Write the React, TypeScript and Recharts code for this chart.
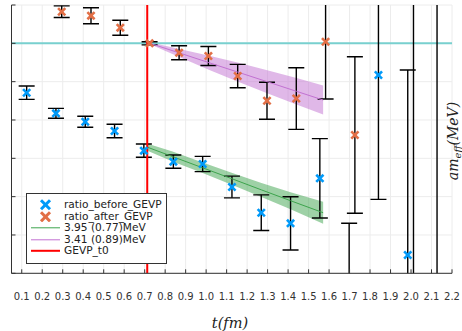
import React from "react";
import {
  ComposedChart,
  Scatter,
  Line,
  Area,
  XAxis,
  YAxis,
  CartesianGrid,
  ReferenceLine,
  ErrorBar,
} from "recharts";

const BLUE = "#009af9";
const ORANGE = "#e26f46";
const GREEN = "#3da44d";
const PURPLE = "#c271d2";
const CYAN = "#78d0cf";

// ratio_before_GEVP
const beforeT = [0.124, 0.267, 0.41, 0.553, 0.696, 0.84, 0.983, 1.126, 1.269, 1.412, 1.555, 1.698, 1.841, 1.984, 2.127];
const beforeVal = [4.712, 4.174, 3.955, 3.713, 3.199, 2.912, 2.852, 2.252, 1.581, 1.304, 2.478, -2.784, 5.173, 0.477, -4.0];
const beforeErr = [0.173, 0.13, 0.143, 0.175, 0.173, 0.173, 0.198, 0.283, 0.466, 0.695, 1.036, 4.088, 3.243, 4.826, 12];

// ratio_after_GEVP
const afterT = [0.295, 0.438, 0.581, 0.724, 0.868, 1.011, 1.154, 1.297, 1.44, 1.583, 1.726, 2.012];
const afterVal = [6.825, 6.721, 6.408, 6.0, 5.755, 5.669, 5.147, 4.503, 4.56, 6.042, 3.608, 9.0];
const afterErr = [0.153, 0.209, 0.196, 0.04, 0.183, 0.248, 0.305, 0.483, 0.804, 1.495, 2.043, 10];

// fit 3.95 (0.77)MeV
const fitAT = [0.711, 0.836, 0.983, 1.128, 1.27, 1.412, 1.571];
const fitAMid = [3.295, 3.045, 2.752, 2.463, 2.176, 1.894, 1.581];
const fitALow = [3.204, 2.915, 2.616, 2.306, 1.993, 1.672, 1.294];
const fitAHigh = [3.386, 3.175, 2.888, 2.62, 2.359, 2.116, 1.868];

// fit 3.41 (0.89)MeV
const fitBT = [0.726, 0.869, 1.01, 1.153, 1.298, 1.441, 1.571];
const fitBMid = [6.0, 5.75, 5.502, 5.252, 4.999, 4.748, 4.521];
const fitBLow = [5.974, 5.646, 5.319, 5.004, 4.699, 4.401, 4.143];
const fitBHigh = [6.026, 5.854, 5.685, 5.5, 5.299, 5.095, 4.899];

const t0 = 0.7125;
const plateau = 6.0;

const xTicks = [0.1, 0.2, 0.3, 0.4, 0.5, 0.6, 0.7, 0.8, 0.9, 1.0, 1.1, 1.2, 1.3, 1.4, 1.5, 1.6, 1.7, 1.8, 1.9, 2.0, 2.1, 2.2];
const yTicks = [0, 1, 2, 3, 4, 5, 6, 7];

const beforeData = beforeT.map((t, i) => ({ t, v: beforeVal[i], e: beforeErr[i] }));
const afterData = afterT.map((t, i) => ({ t, v: afterVal[i], e: afterErr[i] }));
const fitAData = fitAT.map((t, i) => ({ t, c: fitAMid[i], range: [fitALow[i], fitAHigh[i]] }));
const fitBData = fitBT.map((t, i) => ({ t, c: fitBMid[i], range: [fitBLow[i], fitBHigh[i]] }));

const Cross = (props: any) => {
  const { cx, cy, fill } = props;
  if (cx == null || cy == null) return null;
  const r = 3.6;
  return (
    <g stroke={fill} strokeWidth={2.6}>
      <line x1={cx - r} y1={cy - r} x2={cx + r} y2={cy + r} />
      <line x1={cx - r} y1={cy + r} x2={cx + r} y2={cy - r} />
    </g>
  );
};

const XTick = (props: any) => {
  const { x, y, payload } = props;
  return (
    <g>
      <line x1={x} x2={x} y1={y} y2={y - 4} stroke="#333" />
      <text x={x} y={y + 27} textAnchor="middle" fontSize={10} fontFamily="DejaVu Sans" fill="#333">
        {Number(payload.value).toFixed(1)}
      </text>
    </g>
  );
};

const YTick = (props: any) => {
  const { x, y } = props;
  return <line x1={x} x2={x + 4} y1={y} y2={y} stroke="#333" />;
};

const legendRows = [
  { kind: "cross", color: BLUE, label: "ratio_before_GEVP" },
  { kind: "cross", color: ORANGE, label: "ratio_after_GEVP" },
  { kind: "line", color: GREEN, label: "3.95 (0.77)MeV" },
  { kind: "line", color: PURPLE, label: "3.41 (0.89)MeV" },
  { kind: "red", color: "#ff0000", label: "GEVP_t0" },
];

function LegendBox() {
  return (
    <div
      style={{
        position: "absolute",
        left: 26,
        top: 193,
        width: 141,
        height: 71,
        boxSizing: "border-box",
        border: "1px solid #333",
        background: "#fff",
        paddingTop: 5,
        fontFamily: "DejaVu Sans",
        fontSize: 10.6,
        color: "#222",
      }}
    >
      {legendRows.map((r) => (
        <div key={r.label} style={{ display: "flex", alignItems: "center", height: 11.6 }}>
          <svg width={37} height={11.6} style={{ flex: "none" }}>
            {r.kind === "cross" ? (
              <g stroke={r.color} strokeWidth={3}>
                <line x1={14} y1={1.3} x2={23} y2={10.3} />
                <line x1={14} y1={10.3} x2={23} y2={1.3} />
              </g>
            ) : (
              <line x1={4} x2={33} y1={5.8} y2={5.8} stroke={r.color} strokeWidth={r.kind === "red" ? 2 : 1} />
            )}
          </svg>
          <span style={{ whiteSpace: "nowrap", lineHeight: "11.6px" }}>{r.label}</span>
        </div>
      ))}
    </div>
  );
}

export default function App() {
  return (
    <div style={{ position: "absolute", left: 0, top: 0, width: 462, height: 331, background: "#fff" }}>
      <style>{`.recharts-errorBars { clip-path: url(#plotClip); }`}</style>
      <svg width={0} height={0} style={{ position: "absolute" }}>
        <defs>
          <clipPath id="plotClip" clipPathUnits="userSpaceOnUse">
            <rect x={11.5} y={5} width={440.5} height={268.3} />
          </clipPath>
        </defs>
      </svg>
      <ComposedChart width={462} height={331} margin={{ top: 5, right: 10, bottom: 27.7, left: 0 }}>
        <CartesianGrid stroke="#ececec" />
        <XAxis
          type="number"
          dataKey="t"
          domain={[0.05, 2.2]}
          ticks={xTicks}
          allowDataOverflow
          height={30}
          tickSize={0}
          tickMargin={0}
          tickLine={false}
          axisLine={{ stroke: "#333" }}
          tick={<XTick />}
          interval={0}
        />
        <YAxis
          type="number"
          domain={[0, 7]}
          ticks={yTicks}
          allowDataOverflow
          width={11.5}
          tickSize={0}
          tickMargin={0}
          tickLine={false}
          axisLine={{ stroke: "#333" }}
          tick={<YTick />}
          interval={0}
        />
        <ReferenceLine y={plateau} stroke={CYAN} strokeWidth={2} />
        <Scatter data={beforeData} dataKey="v" fill={BLUE} shape={<Cross />} isAnimationActive={false}>
          <ErrorBar dataKey="e" direction="y" width={8} stroke="#000" strokeWidth={1.4} />
        </Scatter>
        <Scatter data={afterData} dataKey="v" fill={ORANGE} shape={<Cross />} isAnimationActive={false}>
          <ErrorBar dataKey="e" direction="y" width={8} stroke="#000" strokeWidth={1.4} />
        </Scatter>
        <Area
          data={fitAData}
          dataKey="range"
          type="linear"
          stroke="none"
          fill={GREEN}
          fillOpacity={0.5}
          isAnimationActive={false}
        />
        <Line data={fitAData} dataKey="c" type="linear" stroke={GREEN} strokeWidth={1} dot={false} isAnimationActive={false} />
        <Area
          data={fitBData}
          dataKey="range"
          type="linear"
          stroke="none"
          fill={PURPLE}
          fillOpacity={0.5}
          isAnimationActive={false}
        />
        <Line data={fitBData} dataKey="c" type="linear" stroke={PURPLE} strokeWidth={1} dot={false} isAnimationActive={false} />
        <ReferenceLine x={t0} stroke="#ff0000" strokeWidth={2} />
      </ComposedChart>
      <svg width={462} height={331} style={{ position: "absolute", left: 0, top: 0, pointerEvents: "none" }}>
        <text x={230} y={328} textAnchor="middle" fontFamily="DejaVu Serif" fontStyle="italic" fontSize={14.5} fill="#222">
          t(fm)
        </text>
        <text
          x={458}
          y={141}
          transform="rotate(-90 458 141)"
          textAnchor="middle"
          fontFamily="DejaVu Serif"
          fontStyle="italic"
          fontSize={14}
          fill="#222"
        >
          am
          <tspan fontSize={10} dy={3}>eff</tspan>
          <tspan dy={-3}>(MeV)</tspan>
        </text>
      </svg>
      <LegendBox />
    </div>
  );
}
